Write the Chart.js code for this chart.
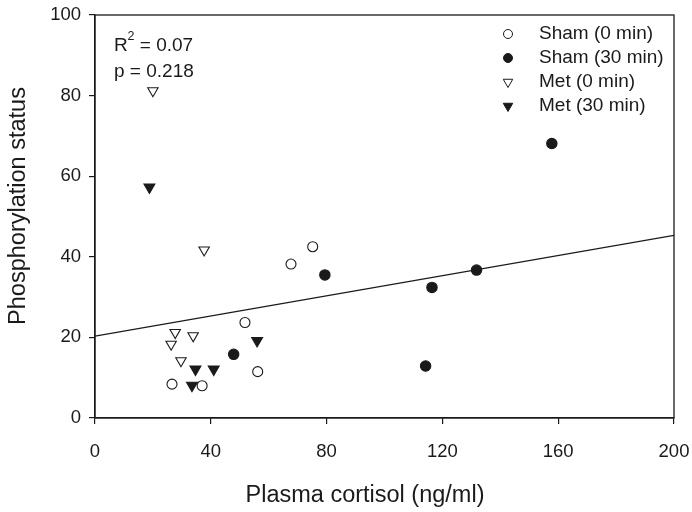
<!DOCTYPE html>
<html>
<head>
<meta charset="utf-8">
<script src="https://cdn.jsdelivr.net/npm/chart.js@4.4.1/dist/chart.umd.min.js"></script>
<style>
  html, body { margin: 0; padding: 0; background: #fff; }
  #wrap { width: 692px; height: 512px; position: relative; }
</style>
</head>
<body>
<div id="wrap"><canvas id="chart"></canvas></div>
<script>
// values
const sham0X = [26.6, 37.0, 51.8, 56.2, 67.7, 75.2];
const sham0Y = [8.4, 8.0, 23.7, 11.5, 38.2, 42.5];
const sham30X = [47.9, 79.4, 114.2, 116.4, 131.8, 157.8];
const sham30Y = [15.8, 35.5, 12.9, 32.4, 36.7, 68.1];
const met0X = [20.0, 37.7, 27.7, 33.9, 26.3, 29.7];
const met0Y = [81.2, 41.7, 21.2, 20.4, 18.3, 14.2];
const met30X = [18.8, 34.7, 41.0, 56.0, 33.5];
const met30Y = [57.3, 12.1, 12.1, 19.2, 8.1];
const fitX = [0, 200];
const fitY = [20.3, 45.3];
const xTicks = [0, 40, 80, 120, 160, 200];
const yTicks = [0, 20, 40, 60, 80, 100];
const seriesNames = ['Sham (0 min)', 'Sham (30 min)', 'Met (0 min)', 'Met (30 min)'];

const FONT = "'Liberation Sans', Arial, sans-serif";
const INK = '#1a1a1a';

const toPts = (xs, ys) => xs.map((x, i) => ({ x: x, y: ys[i] }));

function markerPath(ctx, style, x, y, r) {
    ctx.beginPath();
    if (style === 'circle') {
        ctx.arc(x, y, r, 0, Math.PI * 2);
    } else {
        // downward triangle
        const h = r * Math.sqrt(3) / 2;
        ctx.moveTo(x - h, y - r / 2);
        ctx.lineTo(x + h, y - r / 2);
        ctx.lineTo(x, y + r);
        ctx.closePath();
    }
}

const legendMarks = [
    { style: 'circle', fill: '#fff', r: 4.5 },
    { style: 'circle', fill: INK, r: 4.5 },
    { style: 'triangle', fill: '#fff', r: 5.5 },
    { style: 'triangle', fill: INK, r: 5.5 }
];

const decorPlugin = {
    id: 'decor',
    afterDraw(chart) {
        const { ctx, chartArea: a } = chart;
        ctx.save();
        // frame
        ctx.strokeStyle = INK;
        ctx.lineWidth = 1.3;
        ctx.strokeRect(a.left, a.top, a.right - a.left, a.bottom - a.top);

        // legend
        ctx.font = '19px ' + FONT;
        ctx.textBaseline = 'middle';
        ctx.textAlign = 'left';
        seriesNames.forEach((name, i) => {
            const y = 34 + i * 24;
            const m = legendMarks[i];
            markerPath(ctx, m.style, 508, y, m.r);
            ctx.fillStyle = m.fill;
            ctx.fill();
            ctx.lineWidth = 1;
            ctx.strokeStyle = INK;
            ctx.stroke();
            ctx.fillStyle = INK;
            ctx.fillText(name, 539, y);
        });

        // statistics
        ctx.textBaseline = 'alphabetic';
        ctx.fillText('R', 114, 51);
        ctx.font = '12.5px ' + FONT;
        ctx.fillText('2', 127.5, 40);
        ctx.font = '19px ' + FONT;
        ctx.fillText(' = 0.07', 134.5, 51);
        ctx.fillText('p = 0.218', 114, 77);

        // axis titles
        ctx.font = '23.5px ' + FONT;
        ctx.textAlign = 'center';
        ctx.textBaseline = 'middle';
        ctx.fillText('Plasma cortisol (ng/ml)', 365, 496);
        ctx.translate(19, 206);
        ctx.rotate(-Math.PI / 2);
        ctx.fillText('Phosphorylation status', 0, 0);
        ctx.restore();
    }
};

function scatterSet(label, data, style, fill, r) {
    return {
        type: 'scatter',
        label: label,
        data: data,
        pointStyle: style,
        rotation: style === 'triangle' ? 180 : 0,
        pointRadius: r,
        pointHoverRadius: r,
        pointBackgroundColor: fill,
        pointBorderColor: INK,
        pointBorderWidth: 1.1,
        order: 0
    };
}

new Chart(document.getElementById('chart'), {
    type: 'scatter',
    data: {
        datasets: [
            {
                type: 'line',
                label: 'fit',
                data: toPts(fitX, fitY),
                borderColor: INK,
                borderWidth: 1.3,
                pointRadius: 0,
                fill: false,
                order: 1
            },
            scatterSet(seriesNames[0], toPts(sham0X, sham0Y), 'circle', '#fff', 5),
            scatterSet(seriesNames[1], toPts(sham30X, sham30Y), 'circle', INK, 5.2),
            scatterSet(seriesNames[2], toPts(met0X, met0Y), 'triangle', '#fff', 6),
            scatterSet(seriesNames[3], toPts(met30X, met30Y), 'triangle', INK, 6.3)
        ]
    },
    options: {
        responsive: true,
        maintainAspectRatio: false,
        animation: false,
        layout: { padding: { top: 15, right: 18, left: 0, bottom: 0 } },
        plugins: {
            legend: { display: false },
            tooltip: { enabled: false }
        },
        scales: {
            x: {
                type: 'linear',
                min: 0,
                max: 200,
                afterFit: s => { s.height = 94; s.paddingLeft = 0; s.paddingRight = 0; },
                afterBuildTicks: s => { s.ticks = xTicks.map(v => ({ value: v })); },
                grid: { display: true, drawOnChartArea: false, drawTicks: true, tickLength: 6, color: INK, lineWidth: 1.2 },
                border: { display: true, color: INK, width: 1.3 },
                ticks: { color: INK, font: { family: FONT, size: 18.5 }, padding: 17, maxRotation: 0 }
            },
            y: {
                type: 'linear',
                min: 0,
                max: 100,
                afterFit: s => { s.width = 95; s.paddingTop = 0; s.paddingBottom = 0; },
                afterBuildTicks: s => { s.ticks = yTicks.map(v => ({ value: v })); },
                grid: { display: true, drawOnChartArea: false, drawTicks: true, tickLength: 6, color: INK, lineWidth: 1.2 },
                border: { display: true, color: INK, width: 1.3 },
                ticks: { color: INK, font: { family: FONT, size: 18.5 }, padding: 8 }
            }
        }
    },
    plugins: [decorPlugin]
});
</script>
</body>
</html>
